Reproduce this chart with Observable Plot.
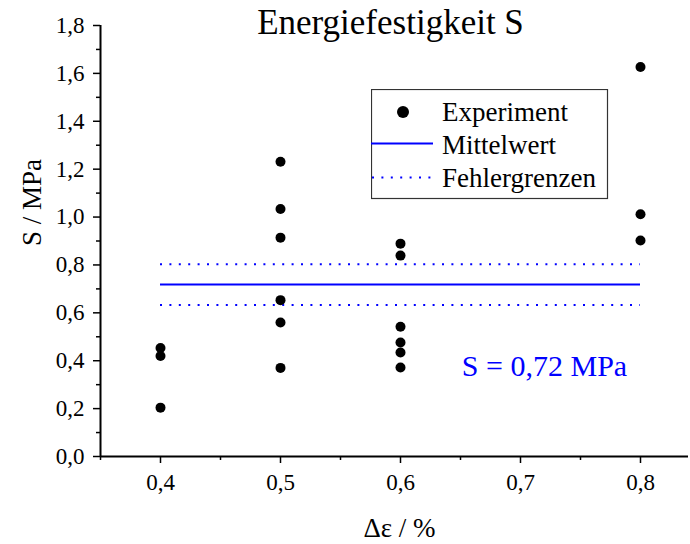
<!DOCTYPE html>
<html><head><meta charset="utf-8">
<script src="https://cdn.jsdelivr.net/npm/d3@7"></script>
<script src="https://cdn.jsdelivr.net/npm/@observablehq/plot@0.6"></script>
<style>
html,body{margin:0;padding:0;background:#fff;}
#wrap{position:relative;width:690px;height:544px;font-family:"Liberation Serif","Times New Roman",serif;}
#wrap > svg{display:block}
#wrap svg text{font-family:"Liberation Serif","Times New Roman",serif !important;font-variant:normal !important;}
.legend{position:absolute;left:371px;top:89px;}
</style></head><body><div id="wrap"></div>
<script>
// ---- data ----
const strain = [0.4, 0.4, 0.4, 0.5, 0.5, 0.5, 0.5, 0.5, 0.5, 0.6, 0.6, 0.6, 0.6, 0.6, 0.6, 0.8, 0.8, 0.8];
const energyStrength = [0.453, 0.420, 0.204, 1.231, 1.034, 0.914, 0.653, 0.560, 0.370, 0.889, 0.839, 0.542, 0.476, 0.434, 0.372, 1.627, 1.012, 0.902];
const meanValue = [0.718];
const errorBounds = [0.633, 0.803];
const xTicksMajor = [0.4, 0.5, 0.6, 0.7, 0.8];
const xTicksMinor = [0.35, 0.45, 0.55, 0.65, 0.75];
const yTicksMajor = [0, 0.2, 0.4, 0.6, 0.8, 1.0, 1.2, 1.4, 1.6, 1.8];
const yTicksMinor = [0.1, 0.3, 0.5, 0.7, 0.9, 1.1, 1.3, 1.5, 1.7];
const titleText = ["Energiefestigkeit S"];
const xLabel = ["Δε / %"];
const yLabel = ["S / MPa"];
const annotation = ["S = 0,72 MPa"];
const legendLabels = ["Experiment", "Mittelwert", "Fehlergrenzen"];

const points = strain.map((x, i) => ({x, y: energyStrength[i]}));
const fmt = d => d.toFixed(1).replace(".", ",");
const blue = "#0000ff";
const serif = "Liberation Serif";
const xStart = d3.min(strain), xEnd = d3.max(strain);

const chart = Plot.plot({
  width: 690, height: 544,
  marginLeft: 100, marginRight: 2, marginTop: 25, marginBottom: 88,
  style: {fontFamily: serif, background: "#fff", color: "#000", overflow: "visible"},
  x: {domain: [0.35, 0.84]},
  y: {domain: [0, 1.8]},
  marks: [
    Plot.axisX({ticks: xTicksMinor, tickSize: 4, tickFormat: () => "", label: null, strokeWidth: 1.5}),
    Plot.axisX({ticks: xTicksMajor, tickSize: 7, tickPadding: 10, tickFormat: fmt, label: null, fontSize: 23, fontFamily: serif, strokeWidth: 1.5}),
    Plot.axisY({ticks: yTicksMinor, tickSize: 4, tickFormat: () => "", label: null, strokeWidth: 1.5}),
    Plot.axisY({ticks: yTicksMajor, tickSize: 7, tickPadding: 9, tickFormat: fmt, label: null, fontSize: 23, fontFamily: serif, strokeWidth: 1.5}),
    Plot.ruleY([0], {strokeWidth: 2}),
    Plot.ruleX([0.35], {strokeWidth: 2}),
    Plot.ruleY(errorBounds, {x1: xStart, x2: xEnd, stroke: blue, strokeWidth: 2, strokeDasharray: "2,7.4"}),
    Plot.ruleY(meanValue, {x1: xStart, x2: xEnd, stroke: blue, strokeWidth: 2}),
    Plot.dot(points, {x: "x", y: "y", r: 5, fill: "#000", stroke: null}),
    Plot.text(titleText, {text: d => d, frameAnchor: "top", dx: -4, dy: 8, lineAnchor: "bottom", fontSize: 35, fontFamily: serif}),
    Plot.text(annotation, {text: d => d, frameAnchor: "bottom", dx: 150, dy: -81, lineAnchor: "bottom", fontSize: 30, fill: blue, fontFamily: serif}),
    Plot.text(xLabel, {text: d => d, frameAnchor: "bottom", dx: 5, dy: 80, lineAnchor: "bottom", fontSize: 27, fontFamily: serif}),
    Plot.text(yLabel, {text: d => d, frameAnchor: "left", dx: -60, dy: 5, rotate: -90, lineAnchor: "bottom", fontSize: 27, fontFamily: serif})
  ]
});
const wrap = document.getElementById("wrap");
wrap.appendChild(chart);

// ---- legend ----
const lg = d3.create("svg").attr("class", "legend").attr("width", 238).attr("height", 111)
  .style("font-family", "'Liberation Serif', 'Times New Roman', serif");
lg.append("rect").attr("x", 0.5).attr("y", 0.5).attr("width", 236).attr("height", 109)
  .attr("fill", "#fff").attr("stroke", "#333").attr("stroke-width", 1.2);
lg.append("circle").attr("cx", 32).attr("cy", 23).attr("r", 6).attr("fill", "#000");
lg.append("line").attr("x1", 0).attr("x2", 62).attr("y1", 54.5).attr("y2", 54.5).attr("stroke", blue).attr("stroke-width", 2);
lg.append("line").attr("x1", 1).attr("x2", 62).attr("y1", 88.5).attr("y2", 88.5).attr("stroke", blue).attr("stroke-width", 2).attr("stroke-dasharray", "2,7.4");
const baselines = [32, 65, 98];
legendLabels.forEach((t, i) => {
  lg.append("text").attr("x", 71).attr("y", baselines[i]).attr("font-size", 27).attr("fill", "#000").text(t);
});
wrap.appendChild(lg.node());
</script>
</body></html>
